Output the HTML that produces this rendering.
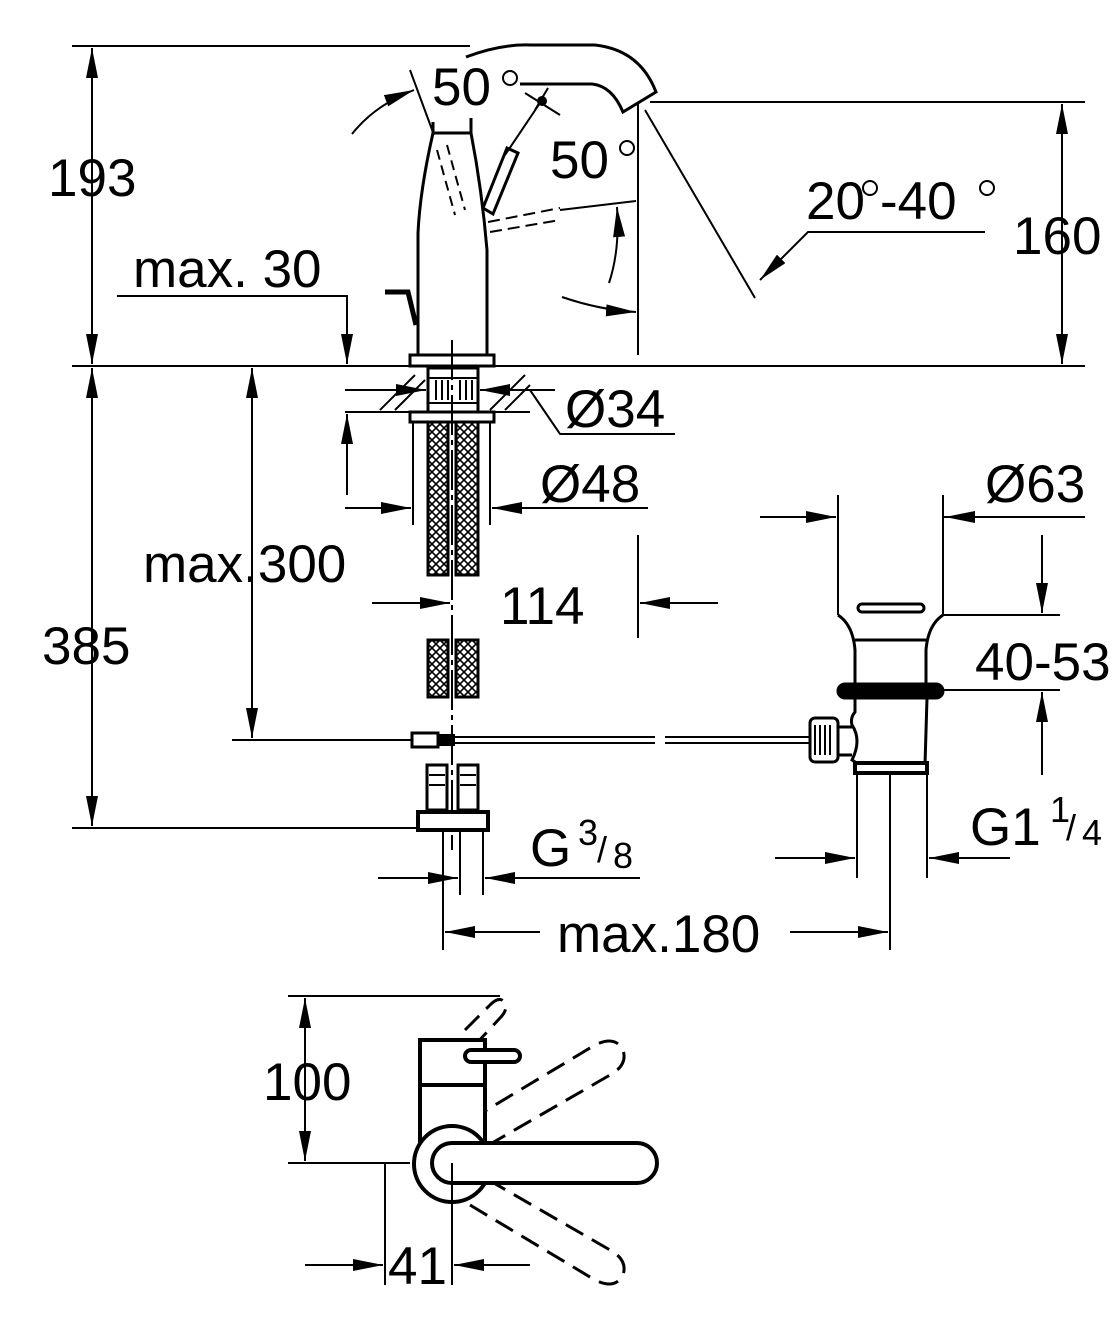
<!DOCTYPE html>
<html><head><meta charset="utf-8"><style>
html,body{margin:0;padding:0;background:#fff}
svg{display:block}
text{font-family:"Liberation Sans",sans-serif;font-size:53px;fill:#000}
.s{font-size:36px}
</style></head><body>
<svg width="1120" height="1343" viewBox="0 0 1120 1343" xmlns="http://www.w3.org/2000/svg">
<defs>
<marker id="a" viewBox="0 0 30 12" refX="30" refY="6" markerWidth="30" markerHeight="12" markerUnits="userSpaceOnUse" orient="auto-start-reverse"><path d="M0,0 L30,6 L0,12 Z" fill="#000"/></marker>
<pattern id="h" width="8" height="8" patternUnits="userSpaceOnUse"><rect width="8" height="8" fill="#fff"/><path d="M0,0 L8,8 M8,0 L0,8" stroke="#000" stroke-width="1.6"/></pattern>
</defs>
<g stroke="#000" fill="none" stroke-width="2">
<line x1="72" y1="46" x2="470" y2="46"/>
<line x1="72" y1="366" x2="1085" y2="366"/>
<line x1="650" y1="102" x2="1085" y2="102"/>
<line x1="92" y1="48" x2="92" y2="364" marker-start="url(#a)" marker-end="url(#a)"/>
<line x1="1062" y1="104" x2="1062" y2="364" marker-start="url(#a)" marker-end="url(#a)"/>
<polyline points="117,296 347,296 347,364" marker-end="url(#a)"/>
<g stroke-width="3">
<path d="M433,122 L433,133 Q420,190 418,233 L418,355"/>
<path d="M471,118 L471,133 Q482,190 487,250 L487,355"/>
<line x1="433" y1="133" x2="471" y2="133"/>
<path d="M466,57 Q500,44 530,45 L595,45 Q640,50 656,92 L623,112 Q612,86 592,84 L520,84"/>
<path d="M483,208 L493,214 L518,153 L507,148 Z"/>
<path d="M385,292 L408,292 L416,325" stroke-width="5"/>
<rect x="410" y="355" width="84" height="11"/>
</g>
<line x1="410" y1="70" x2="434" y2="135"/>
<path d="M352,134 Q375,105 414,90" marker-end="url(#a)"/>
<line x1="505" y1="155" x2="542" y2="100"/>
<line x1="525" y1="93" x2="560" y2="115"/><line x1="548" y1="88" x2="535" y2="110"/>
<circle cx="542" cy="101" r="4" fill="#000"/>
<path d="M437,150 L455,215 M447,145 L465,210" stroke-dasharray="10,6"/>
<path d="M488,222 L560,208 M490,232 L560,220" stroke-dasharray="12,6"/>
<line x1="560" y1="210" x2="636" y2="201"/>
<path d="M609,283 Q620,250 617,207" marker-end="url(#a)"/>
<path d="M562,297 Q600,310 636,312" marker-end="url(#a)"/>
<line x1="638" y1="104" x2="638" y2="355"/>
<line x1="645" y1="110" x2="755" y2="298"/>
<polyline points="985,232 808,232 760,280" marker-end="url(#a)"/>
<circle cx="510" cy="78" r="7"/><circle cx="627" cy="148" r="7"/>
<circle cx="870" cy="188" r="7"/><circle cx="987" cy="188" r="7"/>
<g stroke-width="2">
<line x1="380" y1="410" x2="415" y2="375"/><line x1="395" y1="410" x2="425" y2="380"/>
<line x1="490" y1="410" x2="525" y2="375"/><line x1="505" y1="410" x2="530" y2="385"/>
</g>
<line x1="345" y1="412" x2="530" y2="412"/>
<rect x="428" y="368" width="50" height="44" fill="#fff" stroke-width="3"/>
<line x1="428" y1="378" x2="478" y2="378"/><line x1="428" y1="403" x2="478" y2="403"/>
<path d="M436,380 v20 M442,380 v20 M448,380 v20 M460,380 v20 M466,380 v20 M472,380 v20"/>
<line x1="345" y1="390" x2="426" y2="390" marker-end="url(#a)"/>
<line x1="555" y1="390" x2="480" y2="390" marker-end="url(#a)"/>
<polyline points="530,390 560,434 675,434"/>
<rect x="410" y="412" width="84" height="10" fill="#fff" stroke-width="3"/>
<line x1="413" y1="422" x2="413" y2="525"/><line x1="490" y1="422" x2="490" y2="525"/>
<line x1="345" y1="508" x2="411" y2="508" marker-end="url(#a)"/>
<line x1="555" y1="508" x2="492" y2="508" marker-end="url(#a)"/>
<line x1="540" y1="508" x2="648" y2="508"/>
<line x1="347" y1="495" x2="347" y2="414" marker-end="url(#a)"/>
<rect x="428" y="422" width="20" height="153" fill="url(#h)" stroke-width="3"/>
<rect x="456" y="422" width="22" height="153" fill="url(#h)" stroke-width="3"/>
<rect x="428" y="640" width="20" height="57" fill="url(#h)" stroke-width="3"/>
<rect x="456" y="640" width="22" height="57" fill="url(#h)" stroke-width="3"/>
<line x1="452" y1="340" x2="452" y2="850" stroke-dasharray="40,5,5,5"/>
<line x1="372" y1="603" x2="450" y2="603" marker-end="url(#a)"/>
<line x1="718" y1="603" x2="640" y2="603" marker-end="url(#a)"/>
<line x1="638" y1="535" x2="638" y2="638"/>
<line x1="252" y1="368" x2="252" y2="738" marker-start="url(#a)" marker-end="url(#a)"/>
<line x1="232" y1="740" x2="440" y2="740"/>
<line x1="92" y1="368" x2="92" y2="826" marker-start="url(#a)" marker-end="url(#a)"/>
<line x1="72" y1="828" x2="420" y2="828"/>
<path d="M455,737 L655,737 M455,743 L655,743 M665,737 L810,737 M665,743 L810,743"/>
<rect x="412" y="733" width="26" height="14" fill="#fff" stroke-width="3"/>
<rect x="438" y="735" width="16" height="10" fill="#000"/>
<rect x="427" y="765" width="20" height="45" fill="#fff" stroke-width="3"/>
<rect x="458" y="765" width="20" height="45" fill="#fff" stroke-width="3"/>
<path d="M429,775 h16 M429,785 h16 M460,775 h16 M460,785 h16"/>
<rect x="418" y="812" width="70" height="18" fill="#fff" stroke-width="4"/>
<line x1="460" y1="830" x2="460" y2="895"/><line x1="483" y1="830" x2="483" y2="895"/>
<line x1="378" y1="878" x2="458" y2="878" marker-end="url(#a)"/>
<line x1="640" y1="878" x2="485" y2="878" marker-end="url(#a)"/>
<line x1="443" y1="830" x2="443" y2="950"/><line x1="890" y1="770" x2="890" y2="950"/>
<line x1="540" y1="932" x2="445" y2="932" marker-end="url(#a)"/>
<line x1="790" y1="932" x2="888" y2="932" marker-end="url(#a)"/>
<line x1="838" y1="495" x2="838" y2="615"/><line x1="943" y1="495" x2="943" y2="615"/>
<line x1="760" y1="517" x2="836" y2="517" marker-end="url(#a)"/>
<line x1="990" y1="517" x2="945" y2="517" marker-end="url(#a)"/>
<line x1="943" y1="517" x2="1085" y2="517"/>
<line x1="943" y1="615" x2="1060" y2="615"/><line x1="943" y1="690" x2="1060" y2="690"/>
<line x1="1042" y1="535" x2="1042" y2="613" marker-end="url(#a)"/>
<line x1="1042" y1="775" x2="1042" y2="692" marker-end="url(#a)"/>
<g stroke-width="3">
<path d="M838,615 Q853,625 855,650 L855,685 M943,615 Q928,625 926,650 L926,685"/>
<rect x="858" y="604" width="66" height="8" rx="4"/>
<line x1="855" y1="640" x2="926" y2="640"/>
<rect x="838" y="684" width="105" height="14" rx="7" fill="#000"/>
<path d="M855,698 L855,712 Q850,718 852,725 Q862,740 852,760 L860,765 L925,765 L927,698"/>
<rect x="855" y="763" width="72" height="10" fill="#fff" stroke-width="4"/>
<rect x="810" y="718" width="28" height="44" rx="5" fill="#fff"/>
<path d="M838,727 L852,727 M838,755 L852,755"/>
</g>
<path d="M815,725 v30 M820,725 v30 M825,725 v30 M830,725 v30"/>
<line x1="857" y1="775" x2="857" y2="878"/><line x1="927" y1="775" x2="927" y2="878"/>
<line x1="775" y1="858" x2="855" y2="858" marker-end="url(#a)"/>
<line x1="1010" y1="858" x2="929" y2="858" marker-end="url(#a)"/>
<line x1="288" y1="996" x2="500" y2="996"/>
<line x1="288" y1="1163" x2="410" y2="1163"/>
<line x1="305" y1="998" x2="305" y2="1161" marker-start="url(#a)" marker-end="url(#a)"/>
<g stroke-dasharray="20,10" stroke-width="3">
<path d="M465,1030 L490,1005 Q500,995 505,1003 Q508,1010 500,1018 L475,1045"/>
<path d="M470,1120 L595,1045 Q615,1035 623,1050 Q628,1065 610,1075 L480,1150"/>
<path d="M470,1205 L595,1280 Q615,1290 623,1275 Q628,1260 610,1250 L480,1175"/>
</g>
<g stroke-width="4">
<rect x="420" y="1040" width="65" height="105" fill="#fff"/>
<line x1="420" y1="1085" x2="485" y2="1085"/>
<rect x="465" y="1050" width="55" height="12" rx="6" fill="#fff"/>
<circle cx="452" cy="1164" r="38" fill="#fff"/>
<rect x="432" y="1143" width="225" height="40" rx="20" fill="#fff"/>
</g>
<line x1="452" y1="1163" x2="452" y2="1285"/>
<line x1="385" y1="1163" x2="385" y2="1285"/>
<line x1="305" y1="1265" x2="383" y2="1265" marker-end="url(#a)"/>
<line x1="530" y1="1265" x2="454" y2="1265" marker-end="url(#a)"/>
</g>
<text x="48" y="196">193</text>
<text x="1013" y="254">160</text>
<text x="432" y="105">50</text>
<text x="550" y="178">50</text>
<text x="806" y="219">20</text><text x="880" y="219">-40</text>
<text x="133" y="287">max. 30</text>
<text x="565" y="427">Ø34</text>
<text x="540" y="502">Ø48</text>
<text x="143" y="582">max.300</text>
<text x="500" y="624">114</text>
<text x="42" y="664">385</text>
<text x="985" y="502">Ø63</text>
<text x="975" y="680">40-53</text>
<text x="970" y="845">G1</text><text class="s" x="1050" y="822">1</text><text class="s" x="1066" y="840">/</text><text class="s" x="1082" y="845">4</text>
<text x="530" y="866">G</text><text class="s" x="578" y="845">3</text><text class="s" x="597" y="862">/</text><text class="s" x="613" y="868">8</text>
<text x="557" y="952">max.180</text>
<text x="263" y="1100">100</text>
<text x="388" y="1284">41</text>
</svg>
</body></html>
